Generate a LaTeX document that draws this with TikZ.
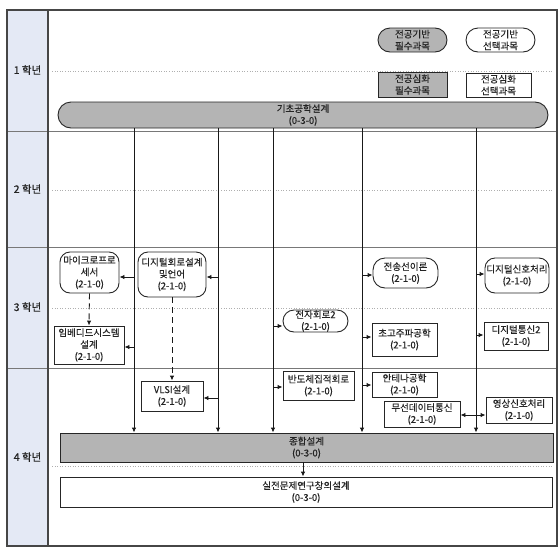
\documentclass[tikz,border=0pt]{standalone}
\usepackage{fontspec}
\setmainfont[FakeBold=0.3]{Noto Sans CJK KR}
\newfontfamily\yearfont[FakeBold=0.5]{Noto Sans CJK KR}
\usetikzlibrary{arrows.meta}
\definecolor{labelbg}{RGB}{228,233,245}
\definecolor{framec}{RGB}{70,70,70}
\definecolor{rowc}{RGB}{120,120,120}
\definecolor{dotc}{RGB}{175,175,175}
\definecolor{greyfill}{RGB}{180,180,180}
\definecolor{txt}{RGB}{35,35,35}
\tikzset{
  box/.style={draw=black!85, line width=0.9pt, inner sep=0pt, align=center, text=txt,
    font=\fontsize{9.5}{11.8}\selectfont},
  rbox/.style={box, rounded corners=10pt},
  sbox/.style={box, rounded corners=12pt},
  core/.style={fill=greyfill},
  arr/.style={draw=black!90, line width=0.9pt, -{Latex[length=5pt,width=4.5pt]}},
  darr/.style={arr, dash pattern=on 6pt off 4pt},
  yearlbl/.style={font=\yearfont\fontsize{10.5}{12}\selectfont, text=txt},
}
\begin{document}
\begin{tikzpicture}[x=1pt,y=-1pt]
\useasboundingbox (0,0) rectangle (559,552);
% label column
\fill[labelbg] (7,10) rectangle (48,546);
% dotted mid lines
\foreach \yy in {71,190,308,466}
  \draw[dotc, line width=0.6pt, dotted] (52,\yy) -- (553,\yy);
% row separators
\foreach \yy in {131,247,368}
  \draw[rowc, line width=1pt] (7,\yy) -- (557,\yy);
\draw[framec, line width=1.2pt] (48,10) -- (48,546);
\draw[framec, line width=1.2pt] (7,10) rectangle (557,546);
% year labels
\node[yearlbl] (y1) at (27.5,70) {1 학년};
\node[yearlbl] (y2) at (27.5,189) {2 학년};
\node[yearlbl] (y3) at (27.5,307) {3 학년};
\node[yearlbl] (y4) at (27.5,457) {4 학년};
% legend
\node[sbox, core, minimum width=69pt, minimum height=24pt] (leg1) at (412.5,40) {전공기반\\필수과목};
\node[sbox, minimum width=69pt, minimum height=24pt] (leg2) at (500.5,40) {전공기반\\선택과목};
\node[box, core, minimum width=69pt, minimum height=25pt] (leg3) at (412.5,84.5) {전공심화\\필수과목};
\node[box, minimum width=65pt, minimum height=24pt] (leg4) at (498.5,85) {전공심화\\선택과목};
% main nodes
\node[box, core, rounded corners=13pt, minimum width=490pt, minimum height=26pt] (gicho) at (303,115) {기초공학설계\\(0-3-0)};
\node[rbox, minimum width=59pt, minimum height=41pt] (micro) at (89.5,272.5) {마이크로프로\\세서\\(2-1-0)};
\node[rbox, minimum width=68pt, minimum height=45pt] (digital) at (172,274.5) {디지털회로설계\\및언어\\(2-1-0)};
\node[box, minimum width=70pt, minimum height=38pt] (embedded) at (89,345) {임베디드시스템\\설계\\(2-1-0)};
\node[box, minimum width=62pt, minimum height=30pt] (vlsi) at (172,396) {VLSI설계\\(2-1-0)};
\node[sbox, rounded corners=11pt, minimum width=65pt, minimum height=22pt] (jeonja) at (315.5,321) {전자회로2\\(2-1-0)};
\node[box, minimum width=71pt, minimum height=29pt] (bando) at (318.5,385.5) {반도체집적회로\\(2-1-0)};
\node[sbox, minimum width=65pt, minimum height=30pt] (jeonsong) at (405.5,273) {전송선이론\\(2-1-0)};
\node[box, minimum width=65pt, minimum height=33pt] (chogo) at (404.5,339.5) {초고주파공학\\(2-1-0)};
\node[rbox, minimum width=64pt, minimum height=35pt] (dsp) at (517,275.5) {디지털신호처리\\(2-1-0)};
\node[box, minimum width=64pt, minimum height=28pt] (dcomm) at (516,336) {디지털통신2\\(2-1-0)};
\node[box, minimum width=65pt, minimum height=25pt] (antenna) at (404.5,384.5) {안테나공학\\(2-1-0)};
\node[box, minimum width=76pt, minimum height=26pt] (wireless) at (422,414) {무선데이터통신\\(2-1-0)};
\node[box, minimum width=66pt, minimum height=26pt] (video) at (519,410) {영상신호처리\\(2-1-0)};
\node[box, core, minimum width=493pt, minimum height=29pt] (jonghap) at (306.5,447.5) {종합설계\\(0-3-0)};
\node[box, minimum width=492pt, minimum height=30pt] (siljeon) at (306,492) {실전문제연구창의설계\\(0-3-0)};
% column coordinates
\coordinate (c1) at (134,0);
\coordinate (c2) at (218,0);
\coordinate (c3) at (273,0);
\coordinate (c4) at (362,0);
\coordinate (c5) at (476,0);
\foreach \c in {c1,c2,c3,c4,c5}
  \draw[arr] (gicho.south -| \c) -- (jonghap.north -| \c);
% branches
\draw[arr] (c1 |- 0,277) -- (micro.east |- 0,277);
\draw[arr] (c2 |- 0,277) -- (digital.east |- 0,277);
\draw[arr] (c1 |- 0,347) -- (embedded.east |- 0,347);
\draw[arr] (c2 |- 0,398) -- (vlsi.east |- 0,398);
\draw[arr] (c3 |- 0,326) -- (jeonja.west |- 0,326);
\draw[arr] (c3 |- 0,387) -- (bando.west |- 0,387);
\draw[arr] (c4 |- 0,275) -- (jeonsong.west |- 0,275);
\draw[arr] (c4 |- 0,337) -- (chogo.west |- 0,337);
\draw[arr] (c4 |- 0,385) -- (antenna.west |- 0,385);
\draw[arr] (c5 |- 0,274) -- (dsp.west |- 0,274);
\draw[arr] (c5 |- 0,335) -- (dcomm.west |- 0,335);
\draw[arr] (c5 |- 0,415) -- (wireless.east |- 0,415);
\draw[arr] (c5 |- 0,415) -- (video.west |- 0,415);
% dashed
\draw[darr] (micro.south) -- (embedded.north);
\draw[darr] (digital.south) -- (vlsi.north);
\draw[arr] (jonghap.south -| 303,0) -- (siljeon.north -| 303,0);
\end{tikzpicture}
\end{document}
